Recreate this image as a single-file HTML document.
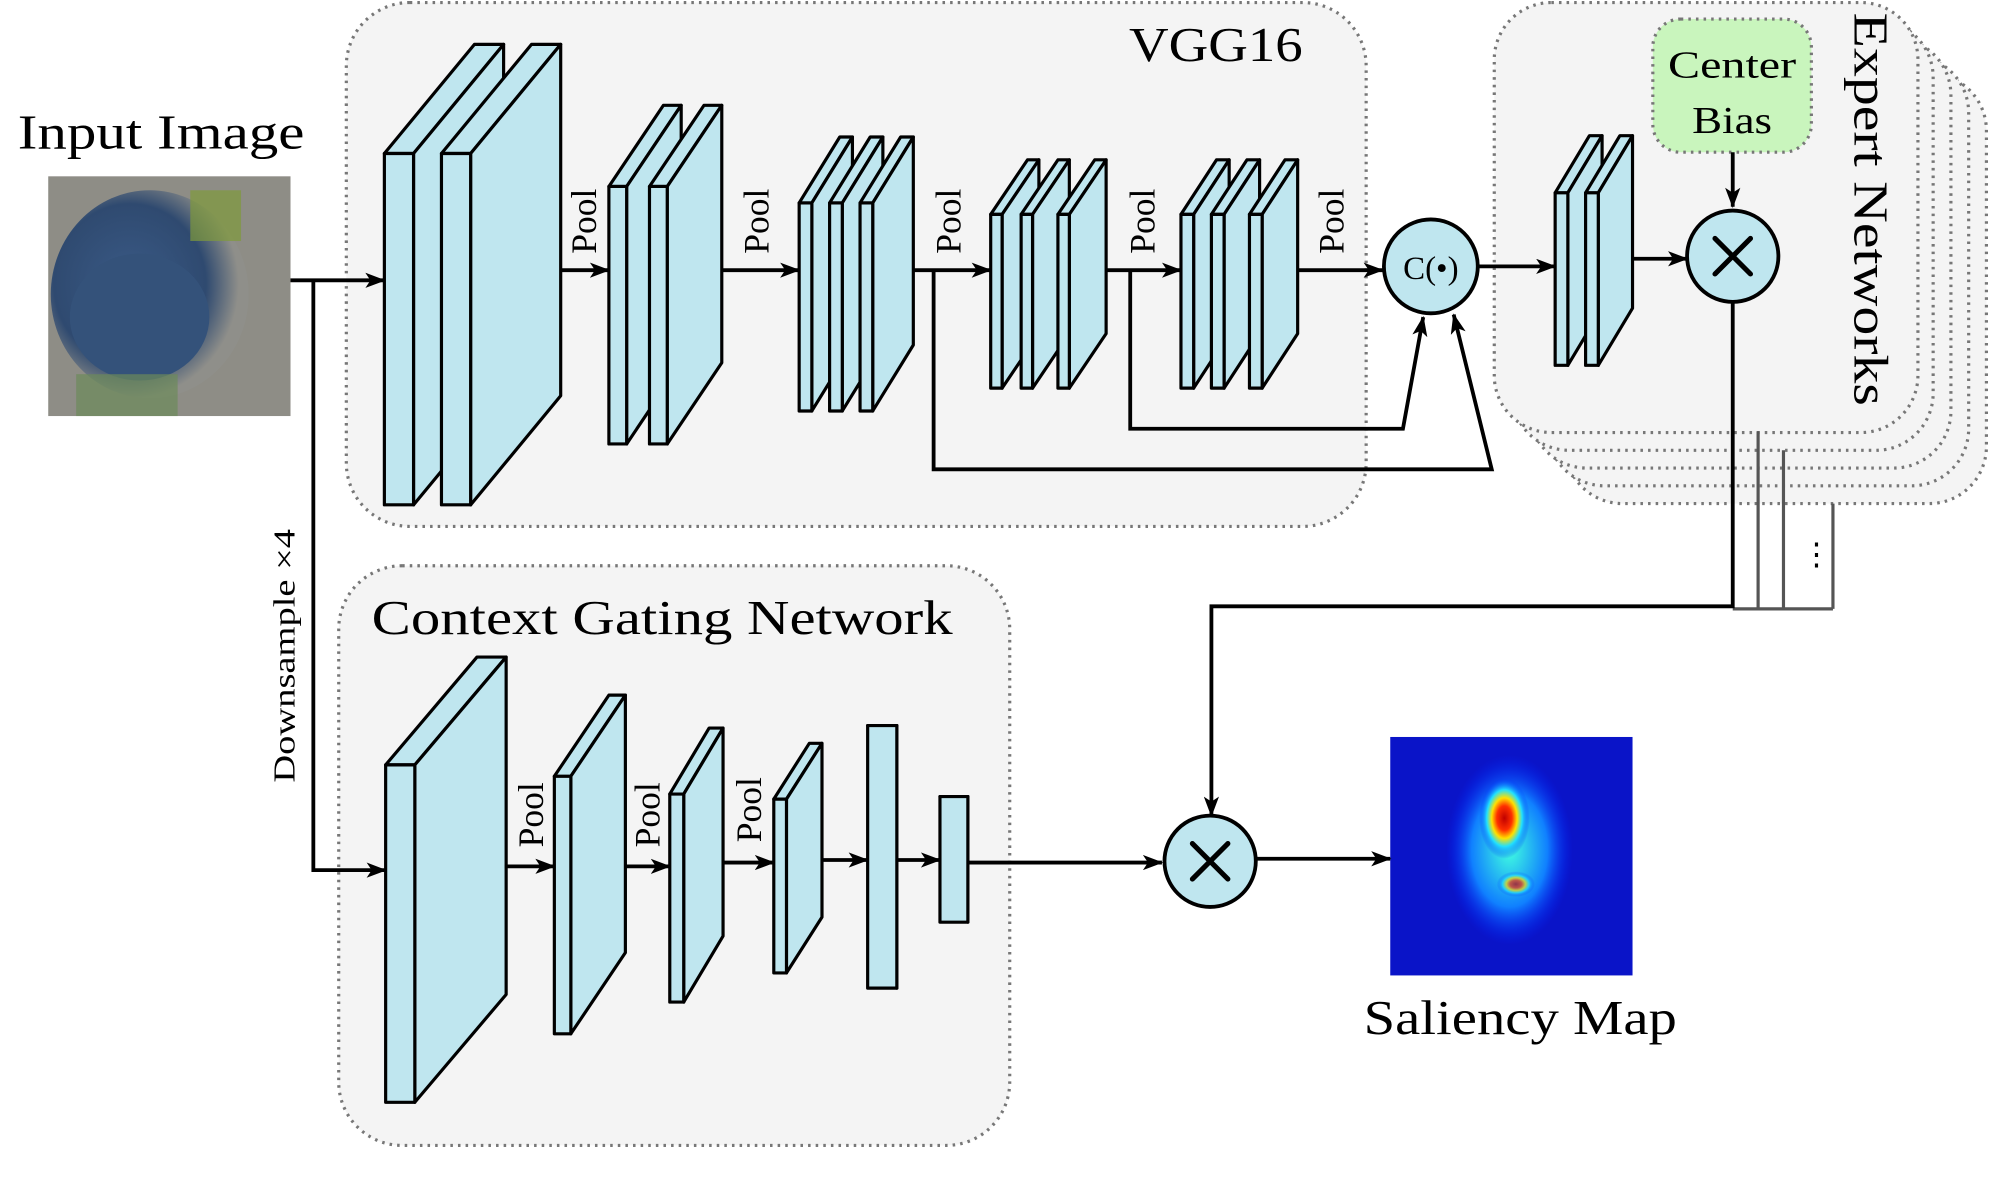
<!DOCTYPE html>
<html><head><meta charset="utf-8"><style>
html,body{margin:0;padding:0;background:#fff;}
svg{display:block;}
text{font-family:"Liberation Serif",serif;fill:#000;}
</style></head><body>
<svg id="s" width="1989" height="1186" viewBox="0 0 1568 935" xmlns="http://www.w3.org/2000/svg">
<defs>
<marker id="ah" markerWidth="16" markerHeight="12" refX="15" refY="6" orient="auto" markerUnits="userSpaceOnUse">
<path d="M0,0 L16,6 L0,12 L4,6 Z" fill="#000"/></marker>
<radialGradient id="pond" cx="0.4" cy="0.45" r="0.55"><stop offset="0" stop-color="#3a5a86"/><stop offset="0.7" stop-color="#2f4a70"/><stop offset="1" stop-color="#8f8f8a"/></radialGradient>
<radialGradient id="hot" cx="0.5" cy="0.5" r="0.5"><stop offset="0" stop-color="#c00000"/><stop offset="0.3" stop-color="#ff3000"/><stop offset="0.5" stop-color="#ffe000"/><stop offset="0.7" stop-color="#20e0ff"/><stop offset="1" stop-color="#0020ff" stop-opacity="0"/></radialGradient>
<radialGradient id="cy" cx="0.5" cy="0.5" r="0.5"><stop offset="0" stop-color="#40ffe0"/><stop offset="0.6" stop-color="#1080ff"/><stop offset="1" stop-color="#0020ff" stop-opacity="0"/></radialGradient>
</defs>
<g fill="#f4f4f4" stroke="#777" stroke-width="2.5" stroke-dasharray="2 4">
<rect x="1234" y="58" width="332" height="339" rx="45"/>
<rect x="1220" y="44" width="332" height="339" rx="45"/>
<rect x="1206" y="30" width="332" height="339" rx="45"/>
<rect x="1192" y="16" width="332" height="339" rx="45"/>
<rect x="1178" y="2" width="334" height="339" rx="45"/>
<rect x="273" y="2" width="804" height="413" rx="50"/>
<rect x="267" y="446" width="529" height="457" rx="50"/>
</g>
<rect x="1303" y="15" width="125" height="105" rx="22" fill="#c9f5bd" stroke="#777" stroke-width="2.5" stroke-dasharray="2 4"/>
<text x="1315" y="61" font-size="30" textLength="101" lengthAdjust="spacingAndGlyphs">Center</text>
<text x="1334" y="105" font-size="30" textLength="63" lengthAdjust="spacingAndGlyphs">Bias</text>
<text x="14" y="117" font-size="38" textLength="226" lengthAdjust="spacingAndGlyphs">Input Image</text>
<text x="890" y="48" font-size="38" textLength="137" lengthAdjust="spacingAndGlyphs">VGG16</text>
<text x="293" y="500" font-size="38" textLength="458" lengthAdjust="spacingAndGlyphs">Context Gating Network</text>
<text x="1075" y="815" font-size="38" textLength="247" lengthAdjust="spacingAndGlyphs">Saliency Map</text>
<text font-size="38" transform="translate(1462,10) rotate(90)" textLength="310" lengthAdjust="spacingAndGlyphs">Expert Networks</text>
<text font-size="24" transform="translate(232,617) rotate(-90)" textLength="200" lengthAdjust="spacingAndGlyphs">Downsample ×4</text>
<g id="L"></g>
<rect x="38" y="139" width="191" height="189" fill="#8e8d86"/>
<ellipse cx="118" cy="232" rx="78" ry="82" fill="url(#pond)"/>
<ellipse cx="110" cy="250" rx="55" ry="50" fill="#34527a"/>
<rect x="150" y="150" width="40" height="40" fill="#7f9a3a" opacity="0.7"/>
<rect x="60" y="295" width="80" height="33" fill="#6c8a5a" opacity="0.7"/>
<rect x="1096" y="581" width="191" height="188" fill="#0a14c8"/>
<ellipse cx="1190" cy="670" rx="50" ry="75" fill="url(#cy)"/>
<ellipse cx="1186" cy="645" rx="20" ry="32" fill="url(#hot)"/>
<ellipse cx="1195" cy="697" rx="15" ry="10" fill="url(#hot)" opacity="0.7"/>
<g fill="none" stroke="#000" stroke-width="3">
<circle cx="1128" cy="210" r="37" fill="#bfe6ef"/>
<circle cx="1366" cy="202" r="36" fill="#bfe6ef"/>
<circle cx="954" cy="679" r="36" fill="#bfe6ef"/>
</g>
<text x="1128" y="220" font-size="26" text-anchor="middle">C(•)</text>
<g stroke="#000" stroke-width="4" stroke-linecap="round"><path d="M1352,188 L1380,216 M1380,188 L1352,216 M940,665 L968,693 M968,665 L940,693"/></g>
<g fill="none" stroke="#555" stroke-width="2.5">
<path d="M1386,340 V480 M1406,355 V480 M1445,397 V480 M1366,480 H1445"/>
</g>
<text x="1420" y="445" font-size="24">⋮</text>
<g fill="none" stroke="#000" stroke-width="3" marker-end="url(#ah)">
<path d="M229,221 H303"/>
<path d="M247,221 V686 H304"/>
<path d="M443,213 H480"/><path d="M569,213 H630"/><path d="M720,213 H781"/><path d="M872,213 H931"/><path d="M1023,213 H1090"/>
<path d="M736,213 V370 H1176 L1146,248"/>
<path d="M891,213 V338 H1106 L1122,250"/>
<path d="M1165,210 H1226"/><path d="M1287,204 H1330"/><path d="M1366,120 V163"/>
<path d="M1366,238 V478 H955 V643"/>
<path d="M398,683 H437"/><path d="M493,683 H528"/><path d="M570,680 H610"/><path d="M648,678 H684"/><path d="M707,678 H741"/><path d="M763,680 H916"/><path d="M990,677 H1096"/>
</g>
<g font-size="28">
<text transform="translate(470,200) rotate(-90)">Pool</text>
<text transform="translate(606,200) rotate(-90)">Pool</text>
<text transform="translate(757,200) rotate(-90)">Pool</text>
<text transform="translate(910,200) rotate(-90)">Pool</text>
<text transform="translate(1059,200) rotate(-90)">Pool</text>
<text transform="translate(428,668) rotate(-90)">Pool</text>
<text transform="translate(520,668) rotate(-90)">Pool</text>
<text transform="translate(600,664) rotate(-90)">Pool</text>
</g>
</svg>
<script>
var g=document.getElementById('L'),ns='http://www.w3.org/2000/svg';
function poly(p){var e=document.createElementNS(ns,'polygon');e.setAttribute('points',p.map(function(a){return a.join(',')}).join(' '));e.setAttribute('fill','#bfe6ef');e.setAttribute('stroke','#000');e.setAttribute('stroke-width','2.5');e.setAttribute('stroke-linejoin','round');g.appendChild(e);}
function slab(x,y,w,h,dx,dy){
poly([[x,y],[x+dx,y+dy],[x+w+dx,y+dy],[x+w,y]]);
poly([[x+w,y],[x+w+dx,y+dy],[x+w+dx,y+h+dy],[x+w,y+h]]);
poly([[x,y],[x+w,y],[x+w,y+h],[x,y+h]]);}
[[303,121,23,277,71,-86],[348,121,23,277,71,-86],
[480,147,14,203,43,-64],[512,147,14,203,43,-64],
[630,160,10,164,32,-52],[654,160,10,164,32,-52],[678,160,10,164,32,-52],
[781,169,9,137,29,-43],[805,169,9,137,29,-43],[834,169,9,137,29,-43],
[931,169,10,137,28,-43],[955,169,10,137,28,-43],[985,169,10,137,28,-43],
[1226,152,10,136,27,-45],[1250,152,10,136,27,-45],
[304,603,23,266,72,-85],[437,612,13,203,43,-64],[528,626,11,164,31,-52],[610,630,10,137,28,-44],
[684,572,23,207,0,0],[741,628,22,99,0,0]].forEach(function(a){slab.apply(null,a)});
</script>
</body></html>
